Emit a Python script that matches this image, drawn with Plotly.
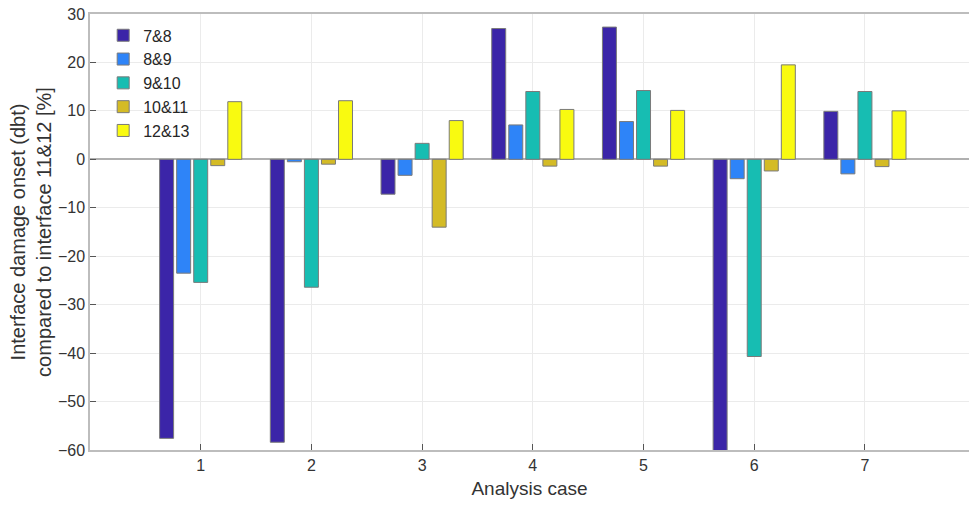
import plotly.graph_objects as go

cases = [1, 2, 3, 4, 5, 6, 7]
series_names = ["7&8", "8&9", "9&10", "10&11", "12&13"]
v_7_8 = [-57.6, -58.4, -7.2, 27.0, 27.3, -60.3, 9.9]
v_8_9 = [-23.5, -0.5, -3.3, 7.1, 7.8, -4.0, -3.0]
v_9_10 = [-25.4, -26.4, 3.3, 14.0, 14.2, -40.7, 14.0]
v_10_11 = [-1.3, -1.0, -14.0, -1.4, -1.4, -2.4, -1.5]
v_12_13 = [11.9, 12.1, 8.0, 10.3, 10.1, 19.5, 10.0]
series_values = [v_7_8, v_8_9, v_9_10, v_10_11, v_12_13]
colors = ["#3B25A8", "#2E84F8", "#17BDB2", "#D4BB25", "#F9FA10"]
y_ticks = [30, 20, 10, 0, -10, -20, -30, -40, -50, -60]

fig = go.Figure()
for name, vals, col in zip(series_names, series_values, colors):
    fig.add_trace(go.Bar(
        x=cases, y=vals, name=name,
        marker=dict(color=col, line=dict(color="#7a7a7a", width=1)),
    ))

font_family = "Liberation Sans, Arial, sans-serif"
fig.update_layout(
    width=969, height=505,
    margin=dict(l=90, r=0, t=14, b=55),
    paper_bgcolor="white", plot_bgcolor="white",
    barmode="group", bargap=0.23, bargroupgap=0.18,
    font=dict(family=font_family, color="#333333", size=15),
    showlegend=True,
    legend=dict(x=0.015, y=0.99, xanchor="left", yanchor="top",
                bgcolor="rgba(255,255,255,0)", borderwidth=0,
                font=dict(size=16, color="#262626"),
                tracegroupgap=0, itemwidth=30),
    xaxis=dict(range=[0, 7.94], tickvals=cases, ticktext=[str(c) for c in cases],
               showgrid=True, gridcolor="#ebebeb", gridwidth=1,
               showline=True, linecolor="#bdbdbd", linewidth=1.5, mirror=True,
               ticks="inside", ticklen=6, tickcolor="#555555",
               zeroline=False,
               title=dict(text="Analysis case", font=dict(size=19, color="#333333"), standoff=9),
               tickfont=dict(size=16, color="#333333")),
    yaxis=dict(range=[-60, 30], tickvals=y_ticks,
               ticktext=[("\u2212" + str(-t)) if t < 0 else str(t) for t in y_ticks],
               showgrid=True, gridcolor="#ebebeb", gridwidth=1,
               showline=True, linecolor="#bdbdbd", linewidth=1.5,
               ticks="inside", ticklen=6, tickcolor="#555555",
               zeroline=True, zerolinecolor="#b0b0b0", zerolinewidth=1.5,
               title=dict(text="Interface damage onset (dbt)<br>compared to interface 11&12 [%]",
                          font=dict(size=20, color="#333333"), standoff=1),
               tickfont=dict(size=16, color="#333333")),
)

fig.write_html("out.html")
